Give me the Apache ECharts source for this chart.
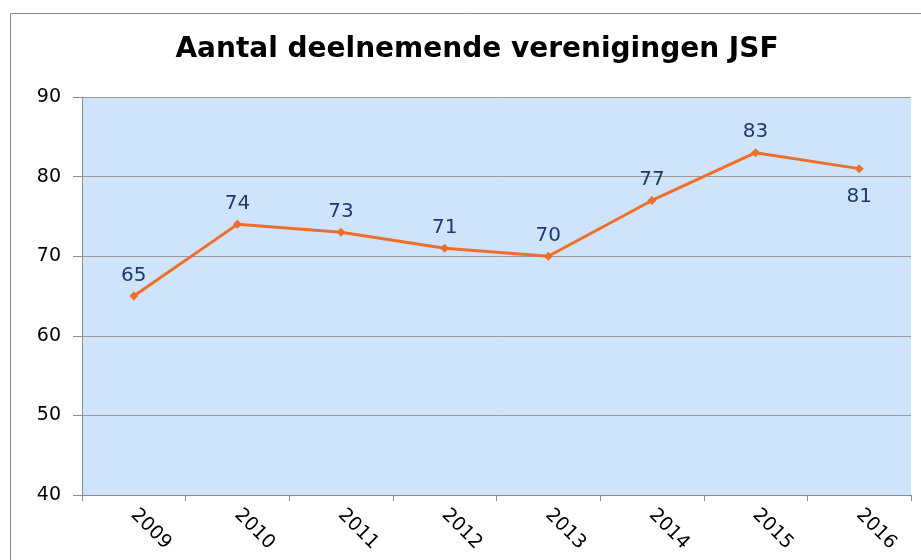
<!DOCTYPE html>
<html>
<head>
<meta charset="utf-8">
<script src="https://cdn.jsdelivr.net/npm/echarts@6/dist/echarts.min.js"></script>
<style>
  html, body { margin: 0; padding: 0; background: #fff; }
  #chart { width: 921px; height: 560px; }
</style>
</head>
<body>
<div id="chart"></div>
<script>
const years = ['2009', '2010', '2011', '2012', '2013', '2014', '2015', '2016'];
const deelnemers = [65, 74, 73, 71, 70, 77, 83, 81];

const chart = echarts.init(document.getElementById('chart'));

const option = {
  backgroundColor: '#fff',
  textStyle: { fontFamily: 'DejaVu Sans' },
  title: {
    text: 'Aantal deelnemende verenigingen JSF',
    left: 472,
    textAlign: 'center',
    top: 31,
    textStyle: { fontSize: 28, fontWeight: 'bold', color: '#000', fontFamily: 'DejaVu Sans' }
  },
  graphic: [
    {
      type: 'rect',
      shape: { x: 10.5, y: 13.5, width: 930, height: 560 },
      style: { fill: 'none', stroke: '#8c8c8c', lineWidth: 1 },
      z: 0
    }
  ],
  grid: {
    left: 82,
    right: 10,
    top: 97,
    bottom: 65,
    show: true,
    backgroundColor: '#cfe3fb',
    borderWidth: 0
  },
  xAxis: {
    type: 'category',
    data: years,
    boundaryGap: true,
    axisLine: { lineStyle: { color: '#8c8c8c' } },
    axisTick: { show: true, length: 6, lineStyle: { color: '#8c8c8c' } },
    axisLabel: { rotate: -45, margin: 17, fontSize: 19, color: '#000' }
  },
  yAxis: {
    type: 'value',
    min: 40,
    max: 90,
    interval: 10,
    axisLine: { show: true, lineStyle: { color: '#8c8c8c' } },
    axisTick: { show: true, length: 9, lineStyle: { color: '#8c8c8c' } },
    axisLabel: { margin: 21, fontSize: 19, color: '#000' },
    splitLine: { lineStyle: { color: '#9a9a9a' } }
  },
  series: [
    {
      type: 'line',
      data: deelnemers.map((v, i) => ({
        value: v,
        label: i === deelnemers.length - 1
          ? { position: 'bottom', distance: 14 }
          : { position: 'top', distance: 6 }
      })),
      symbol: 'diamond',
      symbolSize: 9,
      lineStyle: { color: '#ee6f2b', width: 3 },
      itemStyle: { color: '#ee6f2b' },
      label: { show: true, fontSize: 20, color: '#1b3a70' }
    }
  ]
};

chart.setOption(option);
</script>
</body>
</html>
